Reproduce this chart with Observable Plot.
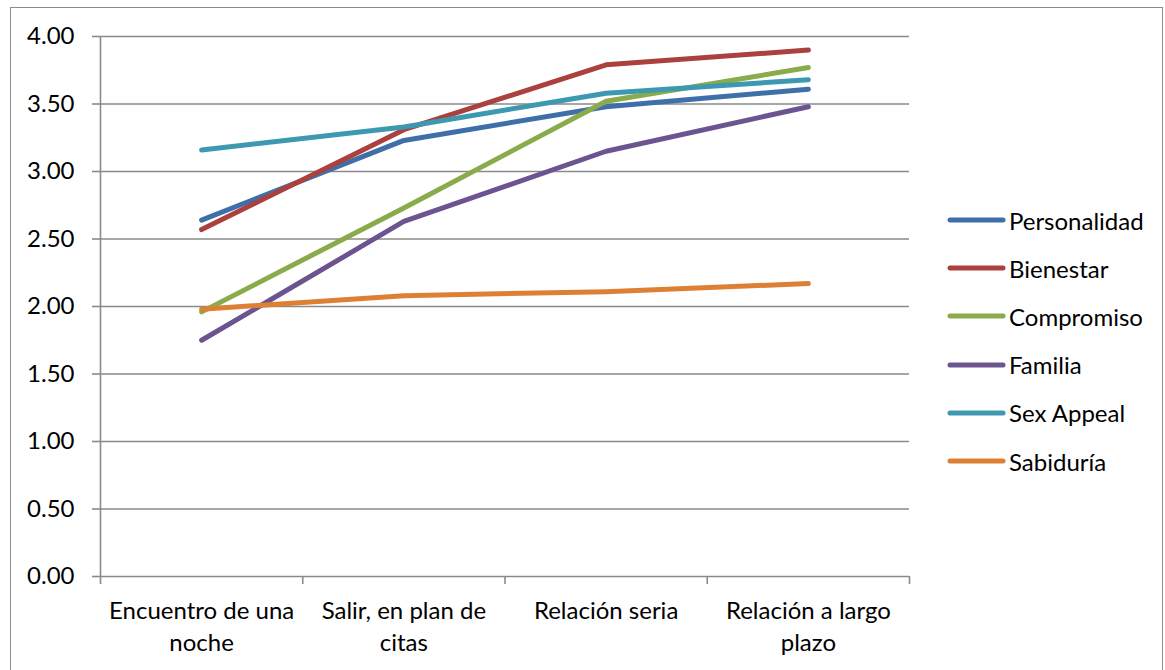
<!DOCTYPE html>
<html>
<head>
<meta charset="utf-8">
<script src="https://cdn.jsdelivr.net/npm/d3@7"></script>
<script src="https://cdn.jsdelivr.net/npm/@observablehq/plot@0.6"></script>
<style>
  html, body { margin: 0; padding: 0; background: #fff; }
  #wrap { position: relative; width: 1165px; height: 670px; overflow: hidden; font-family: Lato, "Open Sans", sans-serif; color: #000; }
  #frame { position: absolute; left: 10px; top: 7px; width: 1153px; height: 700px; border: 1.5px solid #8c8c8c; box-sizing: border-box; }
  #chart { position: absolute; left: 0; top: 0; }
  #legend { position: absolute; left: 0; top: 0; }
  .row { position: absolute; display: flex; align-items: center; height: 30px; font-size: 24px; white-space: nowrap; }
  .row svg { margin-right: 3px; }
</style>
</head>
<body>
<div id="wrap">
  <div id="frame"></div>
  <div id="chart"></div>
  <div id="legend"></div>
</div>
<script>
const categories = ["Encuentro de una\nnoche", "Salir, en plan de\ncitas", "Relación seria", "Relación a largo\nplazo"];
const series = ["Personalidad", "Bienestar", "Compromiso", "Familia", "Sex Appeal", "Sabiduría"];
const colors = ["#3f6fa8", "#ab413e", "#8aab4b", "#6c5490", "#3d99b0", "#dd8034"];
const yTicks = [0, 0.5, 1, 1.5, 2, 2.5, 3, 3.5, 4];

const personalidad = [2.64, 3.23, 3.48, 3.61];
const bienestar    = [2.57, 3.31, 3.79, 3.90];
const compromiso   = [1.96, 2.73, 3.52, 3.77];
const familia      = [1.75, 2.63, 3.15, 3.48];
const sexAppeal    = [3.16, 3.33, 3.58, 3.68];
const sabiduria    = [1.98, 2.08, 2.11, 2.17];

const valuesBySeries = [personalidad, bienestar, compromiso, familia, sexAppeal, sabiduria];
const data = [];
series.forEach((s, k) => valuesBySeries[k].forEach((v, i) => data.push({series: s, i, value: v})));
const boundaries = d3.range(categories.length + 1).map(d => d - 0.5);

const grid = "#8a8a8a";
const chart = Plot.plot({
  width: 1165,
  height: 670,
  marginLeft: 100,
  marginRight: 256,
  marginTop: 36,
  marginBottom: 94,
  style: {fontFamily: "Lato, 'Open Sans', sans-serif", fontSize: "24px", color: "#000", background: "transparent"},
  x: {type: "linear", domain: [-0.5, categories.length - 0.5], axis: null},
  y: {domain: [0, 4], axis: null},
  color: {domain: series, range: colors},
  marks: [
    Plot.ruleY(yTicks, {stroke: grid, strokeWidth: 1.6}),
    Plot.ruleX([-0.5], {stroke: grid, strokeWidth: 1.6}),
    Plot.axisY({ticks: yTicks, tickSize: 8, tickPadding: 18, tickFormat: d3.format(".2f"), stroke: grid, strokeWidth: 1.6, strokeOpacity: 1, label: null, fontSize: 24}),
    Plot.axisX({ticks: boundaries, tickSize: 8, tickFormat: () => "", stroke: grid, strokeWidth: 1.6, strokeOpacity: 1, label: null}),
    Plot.text(categories, {x: (d, i) => i, text: d => d, frameAnchor: "bottom", lineAnchor: "top", dy: 19, lineHeight: 1.35, fontSize: 24, fill: "#000"}),
    Plot.line(data, {x: "i", y: "value", z: "series", stroke: "series", strokeWidth: 5, strokeLinecap: "round", strokeLinejoin: "round"})
  ]
});
document.getElementById("chart").appendChild(chart);

const legend = document.getElementById("legend");
series.forEach((s, k) => {
  const row = document.createElement("div");
  row.className = "row";
  row.style.left = "946px";
  row.style.top = (220 + k * 48.2 - 15) + "px";
  row.innerHTML = `<svg width="60" height="10"><line x1="4" y1="5" x2="57" y2="5" stroke="${colors[k]}" stroke-width="5" stroke-linecap="round"/></svg><span>${s}</span>`;
  legend.appendChild(row);
});
</script>
</body>
</html>
